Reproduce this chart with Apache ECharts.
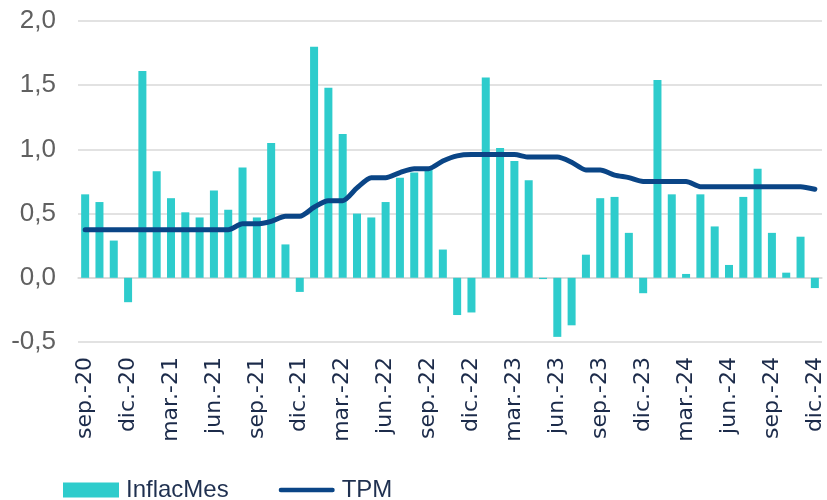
<!DOCTYPE html>
<html>
<head>
<meta charset="utf-8">
<script src="https://cdn.jsdelivr.net/npm/echarts@6/dist/echarts.min.js"></script>
<style>
  html, body { margin: 0; padding: 0; background: #fff; }
  #main { width: 827px; height: 500px; }
</style>
</head>
<body>
<div id="main"></div>
<script>
// months sep.-20 .. dic.-24
const monthNames = ['ene.', 'feb.', 'mar.', 'abr.', 'may.', 'jun.', 'jul.', 'ago.', 'sep.', 'oct.', 'nov.', 'dic.'];
const categories = [];
for (let y = 20; y <= 24; y++) {
  for (let m = 0; m < 12; m++) {
    if (y === 20 && m < 8) continue;
    categories.push(monthNames[m] + '-' + y);
  }
}

const inflacMes = [
  0.65, 0.59, 0.29, -0.19,
  1.61, 0.83, 0.62, 0.51, 0.47, 0.68, 0.53, 0.86, 0.47, 1.05, 0.26, -0.11,
  1.80, 1.48, 1.12, 0.50, 0.47, 0.59, 0.78, 0.82, 0.86, 0.22, -0.29, -0.27,
  1.56, 1.01, 0.91, 0.76, -0.01, -0.46, -0.37, 0.18, 0.62, 0.63, 0.35, -0.12,
  1.54, 0.65, 0.03, 0.65, 0.40, 0.10, 0.63, 0.85, 0.35, 0.04, 0.32, -0.08,
];

const tpm = [
  0.375, 0.375, 0.375, 0.375,
  0.375, 0.375, 0.375, 0.375, 0.375, 0.375, 0.375, 0.42, 0.42, 0.44, 0.48, 0.48,
  0.55, 0.60, 0.60, 0.70, 0.78, 0.78, 0.82, 0.85, 0.85, 0.91, 0.95, 0.96,
  0.96, 0.96, 0.96, 0.94, 0.94, 0.94, 0.90, 0.84, 0.84, 0.80, 0.78, 0.75,
  0.75, 0.75, 0.75, 0.71, 0.71, 0.71, 0.71, 0.71, 0.71, 0.71, 0.71, 0.69,
];

const yTicks = { min: -0.5, max: 2, interval: 0.5 };

const chart = echarts.init(document.getElementById('main'));
chart.setOption({
  animation: false,
  textStyle: { fontFamily: 'Liberation Sans, Arial, sans-serif' },
  grid: { left: 78, right: 5, top: 21, bottom: 158 },
  legend: {
    left: 58,
    top: 473,
    itemGap: 50,
    itemWidth: 56,
    itemHeight: 15,
    symbolKeepAspect: true,
    textStyle: { fontSize: 24, color: '#1f3050', padding: [0, 0, 0, 2] },
    data: [
      { name: 'InflacMes', icon: 'rect' },
      {
        name: 'TPM',
        icon: 'path://M4,0 L106,0 Q110,0 110,4.5 Q110,9 106,9 L4,9 Q0,9 0,4.5 Q0,0 4,0 Z',
        itemStyle: { color: '#0a4586' },
        lineStyle: { opacity: 0, width: 0 },
      },
    ],
  },
  xAxis: [{
    type: 'category',
    data: categories,
    axisLine: { onZero: true, lineStyle: { color: '#d9d9d9', width: 1.5 } },
    axisTick: { interval: 2, length: 7, lineStyle: { color: '#d9d9d9', width: 1.5 } },
    axisLabel: { show: false },
  }, {
    type: 'category',
    data: categories,
    position: 'bottom',
    axisLine: { show: false },
    axisTick: { show: false },
    axisLabel: {
      interval: 2,
      rotate: 90,
      margin: 15,
      fontSize: 22,
      fontFamily: 'DejaVu Sans',
      color: '#1c2b4a',
    },
  }],
  yAxis: {
    type: 'value',
    min: yTicks.min,
    max: yTicks.max,
    interval: yTicks.interval,
    axisLabel: {
      fontSize: 26,
      color: '#606060',
      margin: 22,
      formatter: v => v.toFixed(1).replace('.', ','),
    },
    splitLine: { lineStyle: { color: '#d9d9d9', width: 1.5 } },
  },
  series: [{
    name: 'InflacMes',
    type: 'bar',
    data: inflacMes,
    barWidth: 8,
    itemStyle: { color: '#2ecccc' },
  }, {
    name: 'TPM',
    type: 'line',
    data: tpm,
    showSymbol: false,
    symbol: 'none',
    smooth: 0.25,
    lineStyle: { color: '#0a4586', width: 5, cap: 'round', join: 'round' },
    itemStyle: { color: '#0a4586' },
  }],
});
</script>
</body>
</html>
